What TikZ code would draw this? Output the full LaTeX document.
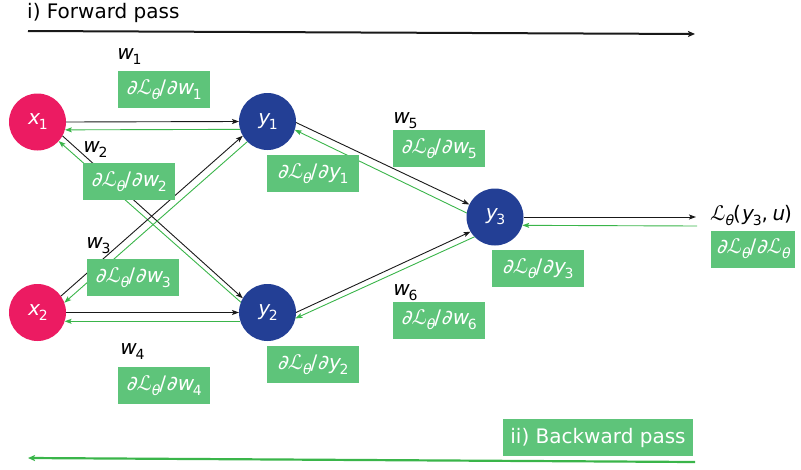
\documentclass[tikz,border=0pt]{standalone}
\usepackage{fontspec}
\setmainfont{DejaVu Sans}
\newfontfamily\slfont[FakeSlant=0.2]{DejaVu Sans}
\usetikzlibrary{arrows.meta}
\definecolor{gboxc}{HTML}{5EC47A}
\definecolor{glinec}{HTML}{3AB54A}
\definecolor{xcol}{HTML}{EC1B62}
\definecolor{ycol}{HTML}{233F95}
\newcommand\lsub[1]{\raisebox{-0.25em}{\fontsize{14}{14}\selectfont #1}}
\newcommand\mi[1]{{\slfont #1}}
\newcommand\Lth{\mi{ℒ}\lsub{\mi{θ}}}
\newcommand\dd{\mi{∂}}
\begin{document}
\begin{tikzpicture}[x=1pt,y=-1pt,
  big/.style={font=\fontsize{20}{24}\selectfont},
  xn/.style={circle, fill=xcol, minimum size=57pt, inner sep=0pt, outer sep=0pt, text=white, big},
  yn/.style={circle, fill=ycol, minimum size=57pt, inner sep=0pt, outer sep=0pt, text=white, big},
  gbox/.style={fill=gboxc, text=white, minimum width=92pt, minimum height=37pt, inner sep=0pt, big},
  wl/.style={anchor=base west, inner sep=0pt, big},
  fw/.style={black!90, line width=0.9pt, -{Stealth[length=7pt,width=5pt,inset=1.5pt]}},
  bw/.style={glinec, line width=0.9pt, -{Stealth[length=7pt,width=5pt,inset=1.5pt]}},
  bigfw/.style={black!90, line width=2pt, -{Stealth[length=7pt,width=6pt,inset=1.5pt]}},
  bigbw/.style={glinec, line width=2.2pt, -{Stealth[length=7pt,width=6pt,inset=1.5pt]}}]
\useasboundingbox (0,0) rectangle (801,469);

% title and pass arrows
\node[wl] (title) at (27,18) {i) Forward pass};
\coordinate (f0) at (28,31);
\coordinate (f1) at (695,34);
\draw[bigfw] (f0) -- (f1);
\node[gbox, minimum width=190pt] (back) at (598,437.5) {ii) Backward pass};
\coordinate (b0) at (695,462);
\coordinate (b1) at (28,458);
\draw[bigbw] (b0) -- (b1);

% neurons
\node[xn] (x1) at (37.5,122) {\mi{x}\lsub{1}};
\node[xn] (x2) at (37.5,312.5) {\mi{x}\lsub{2}};
\node[yn] (y1) at (267.5,121.5) {\mi{y}\lsub{1}};
\node[yn] (y2) at (267.5,312.5) {\mi{y}\lsub{2}};
\node[yn] (y3) at (495,217) {\mi{y}\lsub{3}};
\node[wl] (L) at (710,220) {\Lth(\mi{y}\lsub{3},\,\mi{u})};

% weights
\node[wl] (w1) at (116,59) {\mi{w}\lsub{1}};
\node[wl] (w2) at (82,152) {\mi{w}\lsub{2}};
\node[wl] (w3) at (85,248) {\mi{w}\lsub{3}};
\node[wl] (w4) at (119,354) {\mi{w}\lsub{4}};
\node[wl] (w5) at (392,123) {\mi{w}\lsub{5}};
\node[wl] (w6) at (392,295) {\mi{w}\lsub{6}};

% connectors (behind the gradient boxes)
\draw[fw] (x1.east) -- (y1.west);
\draw[bw] (y1.196) -- (x1.-16);
\draw[fw] (x2.east) -- (y2.west);
\draw[bw] (y2.198) -- (x2.-18);
\draw[fw] (x1.-29) -- (y2.150);
\draw[bw] (y2.159) -- (x1.-42);
\draw[fw] (x2.35) -- (y1.210);
\draw[bw] (y1.225) -- (x2.20);
\draw[fw] (y1.-2) -- (y3.154);
\draw[bw] (y3.172) -- (y1.-17);
\draw[fw] (y2.east) -- (y3.211);
\draw[bw] (y3.224) -- (y2.-12);
\coordinate (Lin) at (696,217);
\coordinate (Lout) at (697,226);
\draw[fw] (y3.east) -- (Lin);
\draw[bw] (Lout) -- (y3.-17);

% gradient boxes
\node[gbox] (gw1) at (164,89.5) {\dd\Lth/\dd\mi{w}\lsub{1}};
\node[gbox] (gw2) at (129,181.5) {\dd\Lth/\dd\mi{w}\lsub{2}};
\node[gbox] (gw3) at (133,277.5) {\dd\Lth/\dd\mi{w}\lsub{3}};
\node[gbox] (gw4) at (164,385.5) {\dd\Lth/\dd\mi{w}\lsub{4}};
\node[gbox] (gy1) at (313,173.5) {\dd\Lth/\dd\mi{y}\lsub{1}};
\node[gbox] (gw5) at (439,148.5) {\dd\Lth/\dd\mi{w}\lsub{5}};
\node[gbox] (gw6) at (439,320) {\dd\Lth/\dd\mi{w}\lsub{6}};
\node[gbox] (gy2) at (313,364.5) {\dd\Lth/\dd\mi{y}\lsub{2}};
\node[gbox] (gy3) at (538,268.5) {\dd\Lth/\dd\mi{y}\lsub{3}};
\node[gbox, minimum width=84pt] (gL) at (753,249) {\dd\Lth/\dd\Lth};
\end{tikzpicture}
\end{document}
